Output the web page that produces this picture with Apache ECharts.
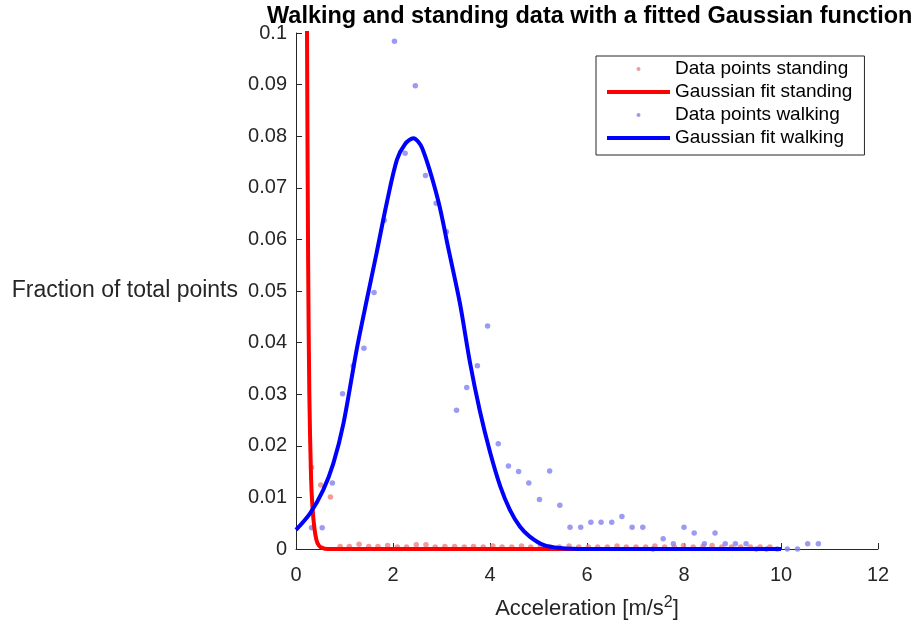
<!DOCTYPE html>
<html>
<head>
<meta charset="utf-8">
<title>Walking and standing data</title>
<script src="https://cdn.jsdelivr.net/npm/echarts@6/dist/echarts.min.js"></script>
<style>
  html, body { margin: 0; padding: 0; background: #fff; }
  #chart { width: 914px; height: 627px; }
</style>
</head>
<body>
<div id="chart"></div>
<script>
// histogram bins (fraction of total points)
var standingX = [0.12, 0.32, 0.51, 0.71, 0.91, 1.10, 1.30, 1.50, 1.69, 1.89,
  2.09, 2.28, 2.48, 2.68, 2.87, 3.07, 3.27, 3.47, 3.66, 3.86,
  4.06, 4.25, 4.45, 4.65, 4.84, 5.04, 5.24, 5.43, 5.63, 5.83,
  6.03, 6.22, 6.42, 6.62, 6.81, 7.01, 7.21, 7.40, 7.60, 7.80,
  7.99, 8.19, 8.39, 8.58, 8.78, 8.98, 9.17, 9.37, 9.57, 9.77]
var standingY = [0.93, 0.0158, 0.0124, 0.0101, 0.0005, 0.0005, 0.0009, 0.0005, 0.0005, 0.0007,
  0.0004, 0.0004, 0.0008, 0.0008, 0.0004, 0.0005, 0.0005, 0.0004, 0.0005, 0.0004,
  0.0006, 0.0004, 0.0004, 0.0006, 0.0004, 0.0006, 0.0004, 0.0004, 0.0006, 0.0004,
  0.0004, 0.0004, 0.0004, 0.0006, 0.0004, 0.0004, 0.0004, 0.0006, 0.0004, 0.0004,
  0.0007, 0.0004, 0.0005, 0.0007, 0.0004, 0.0004, 0.0004, 0.0004, 0.0004, 0.0004]

var walkingX = [0.32, 0.54, 0.75, 0.96, 1.18, 1.40, 1.61, 1.82, 2.03, 2.25,
  2.46, 2.67, 2.89, 3.10, 3.31, 3.52, 3.74, 3.95, 4.17, 4.38,
  4.59, 4.80, 5.02, 5.23, 5.44, 5.65, 5.87, 6.08, 6.29, 6.51,
  6.72, 6.93, 7.15, 7.36, 7.57, 7.78, 8.00, 8.21, 8.42, 8.64,
  8.85, 9.06, 9.28, 9.49, 9.70, 9.92, 10.13, 10.34, 10.55, 10.77]
var walkingY = [0.0041, 0.0041, 0.0128, 0.0301, 0.0355, 0.0389, 0.0497, 0.0637, 0.0984, 0.0767,
  0.0898, 0.0724, 0.0670, 0.0615, 0.0269, 0.0313, 0.0355, 0.0432, 0.0204, 0.0161,
  0.0150, 0.0128, 0.0096, 0.0151, 0.0085, 0.0042, 0.0042, 0.0052, 0.0052, 0.0052,
  0.0063, 0.0042, 0.0042, 0, 0.0020, 0.0010, 0.0042, 0.0031, 0.0010, 0.0031,
  0.0010, 0.0010, 0.0010, 0, 0, 0, 0, 0, 0.0010, 0.0010]

// fitted curves
var standingFitX = [0.18, 0.227, 0.25, 0.275, 0.31, 0.34, 0.38, 0.42, 0.47, 0.54, 0.65, 1, 2, 4, 6, 8, 10]
var standingFitY = [0.2, 0.1, 0.056, 0.03, 0.014, 0.008, 0.004, 0.0018, 0.0007, 0.0002, 0, 0, 0, 0, 0, 0, 0]

var walkingFitX = [0, 0.29, 0.56, 0.77, 0.98, 1.25, 1.46, 1.66, 1.87, 2.08, 2.25, 2.42, 2.6,
  2.93, 3.14, 3.38, 3.59, 3.79, 4.0, 4.21, 4.41, 4.62, 4.82, 5.1, 5.44, 6, 7, 8, 9, 10]
var walkingFitY = [0.0037, 0.0069, 0.0114, 0.0166, 0.0244, 0.0386, 0.0483, 0.0573, 0.0670, 0.0754, 0.0785, 0.0796, 0.0777,
  0.0676, 0.0583, 0.0476, 0.0360, 0.0268, 0.0188, 0.0122, 0.0076, 0.0043, 0.0024, 0.0008, 0.0002, 0, 0, 0, 0, 0]

function pairs(xs, ys) {
  return xs.map(function (x, i) { return [x, ys[i]] })
}

var axisColor = '#262626'
var font = 'Liberation Sans'
var chart = echarts.init(document.getElementById('chart'))

chart.setOption({
  animation: false,
  title: {
    text: 'Walking and standing data with a fitted Gaussian function',
    left: 262,
    top: 0,
    textStyle: {
      fontFamily: font,
      fontSize: 23.5,
      fontWeight: 'bold',
      color: '#000'
    }
  },
  legend: {
    orient: 'vertical',
    left: 596,
    top: 56,
    padding: [3, 12, 7, 11],
    itemGap: 3,
    itemWidth: 63,
    itemHeight: 4,
    borderColor: axisColor,
    borderWidth: 1,
    backgroundColor: '#fff',
    textStyle: {
      fontFamily: font,
      fontSize: 19,
      lineHeight: 20,
      color: '#000'
    },
    data: [
      { name: 'Data points standing', icon: 'circle' },
      { name: 'Gaussian fit standing', icon: 'rect' },
      { name: 'Data points walking', icon: 'circle' },
      { name: 'Gaussian fit walking', icon: 'rect' }
    ]
  },
  grid: {
    left: 296,
    right: 36,
    top: 33,
    bottom: 78
  },
  xAxis: {
    type: 'value',
    min: 0,
    max: 12,
    interval: 2,
    name: 'Acceleration [m/s{sup|2}]',
    nameLocation: 'middle',
    nameGap: 46,
    nameTextStyle: {
      fontFamily: font,
      fontSize: 22,
      lineHeight: 27,
      color: axisColor,
      rich: {
        sup: { fontFamily: font, fontSize: 16, lineHeight: 16, verticalAlign: 'top', color: axisColor }
      }
    },
    axisLine: { lineStyle: { color: axisColor, width: 1 } },
    axisTick: { inside: true, length: 6, lineStyle: { color: axisColor } },
    axisLabel: { fontFamily: font, fontSize: 20, color: axisColor, margin: 16 },
    splitLine: { show: false }
  },
  yAxis: {
    type: 'value',
    min: 0,
    max: 0.1,
    interval: 0.01,
    name: 'Fraction of total points',
    nameLocation: 'middle',
    nameRotate: 0,
    nameGap: 58,
    nameTextStyle: { fontFamily: font, fontSize: 23, color: axisColor },
    axisLine: { show: true, lineStyle: { color: axisColor, width: 1 } },
    axisTick: { show: true, inside: true, length: 6, lineStyle: { color: axisColor } },
    axisLabel: {
      fontFamily: font,
      fontSize: 20,
      color: axisColor,
      margin: 9,
      formatter: function (v) { return String(+v.toFixed(2)) }
    },
    splitLine: { show: false }
  },
  series: [
    {
      name: 'Data points standing',
      type: 'scatter',
      symbol: 'circle',
      symbolSize: 5.5,
      clip: true,
      itemStyle: { color: '#f08282' },
      data: pairs(standingX, standingY)
    },
    {
      name: 'Gaussian fit standing',
      type: 'line',
      symbol: 'none',
      smooth: 0.3,
      clip: true,
      lineStyle: { color: '#ff0000', width: 4 },
      itemStyle: { color: '#ff0000' },
      data: pairs(standingFitX, standingFitY)
    },
    {
      name: 'Data points walking',
      type: 'scatter',
      symbol: 'circle',
      symbolSize: 5.5,
      clip: true,
      itemStyle: { color: '#8282f0' },
      data: pairs(walkingX, walkingY)
    },
    {
      name: 'Gaussian fit walking',
      type: 'line',
      symbol: 'none',
      smooth: 0.3,
      clip: true,
      lineStyle: { color: '#0000ff', width: 4 },
      itemStyle: { color: '#0000ff' },
      data: pairs(walkingFitX, walkingFitY)
    }
  ]
})
</script>
</body>
</html>
